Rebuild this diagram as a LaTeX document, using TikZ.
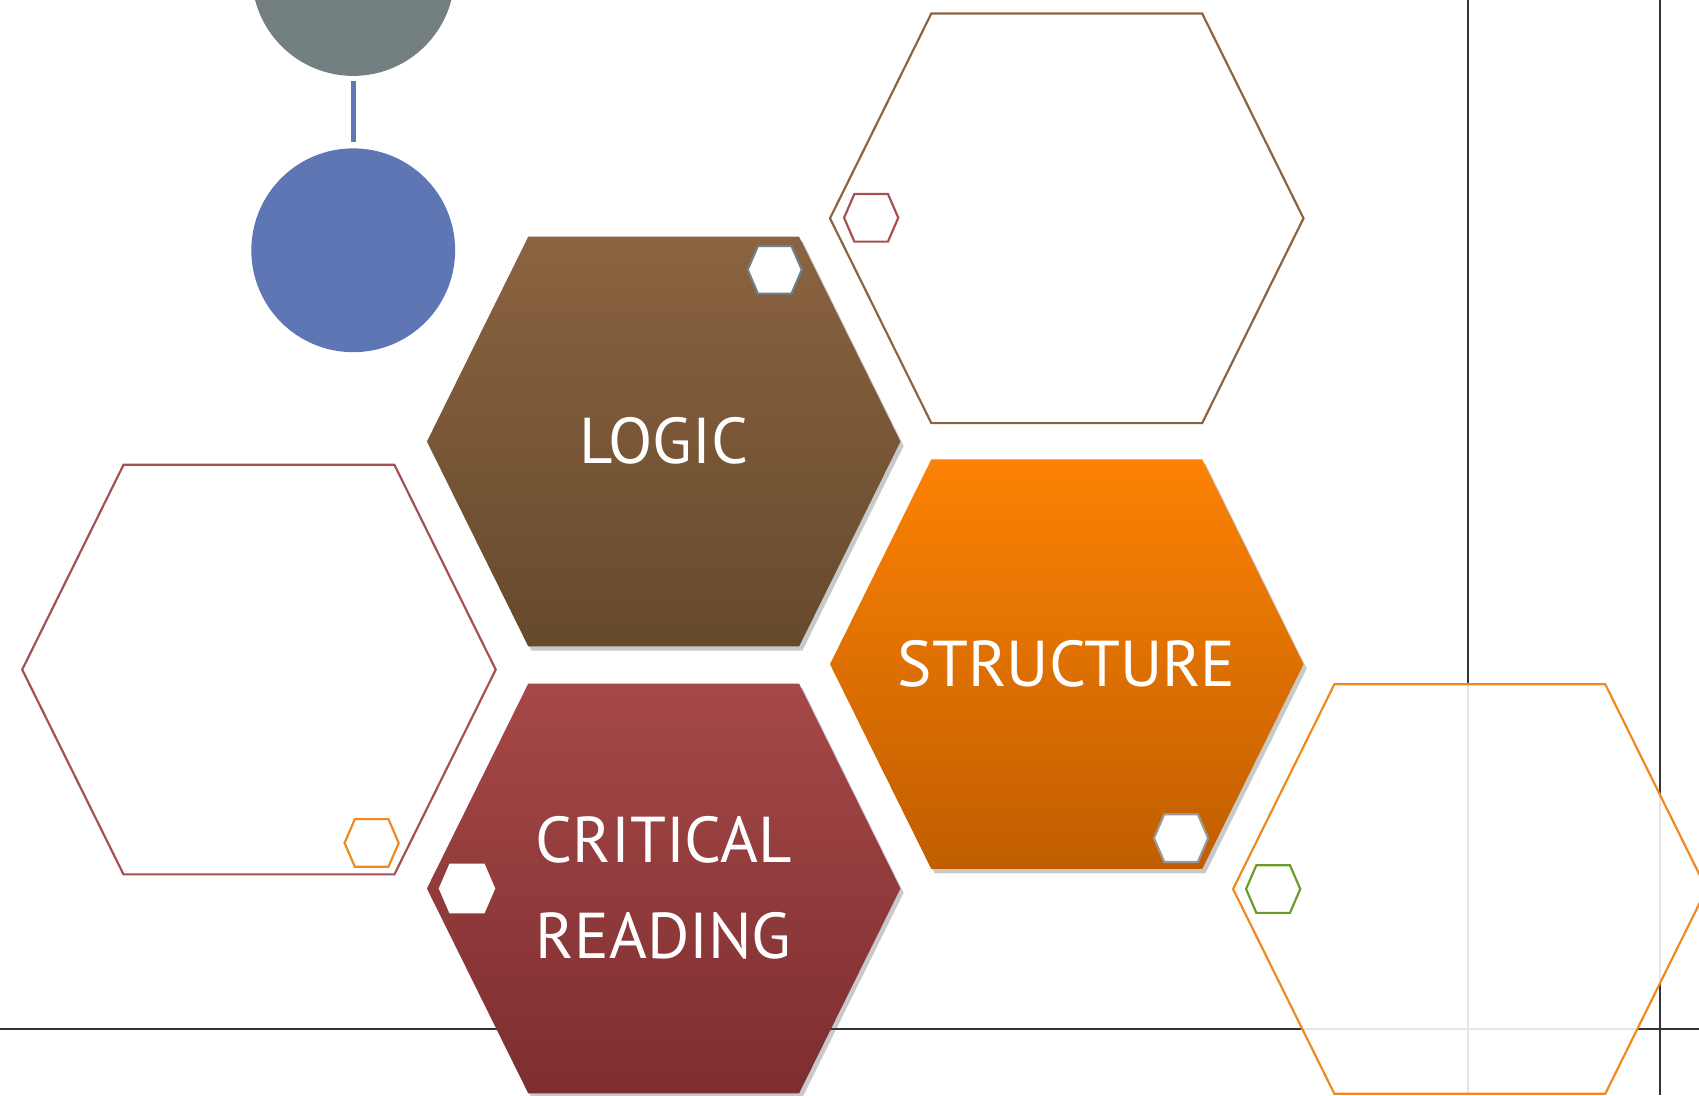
\documentclass[tikz,border=0pt]{standalone}
\usepackage{fontspec}
\setmainfont{PT Sans}
\usetikzlibrary{shadows}
\definecolor{logicT}{HTML}{8B6340}
\definecolor{logicB}{HTML}{664A2C}
\definecolor{strT}{HTML}{FC8204}
\definecolor{strB}{HTML}{C05E00}
\definecolor{crT}{HTML}{A64848}
\definecolor{crB}{HTML}{7D2E2F}
\definecolor{grayc}{HTML}{737F80}
\definecolor{bluec}{HTML}{5F76B4}
\definecolor{brownline}{HTML}{8B6340}
\definecolor{redline}{HTML}{A45050}
\definecolor{orangeline}{HTML}{F0891E}
\definecolor{greenline}{HTML}{6A9A2A}
\definecolor{slate}{HTML}{6F8089}
\definecolor{darkline}{HTML}{333333}
\tikzset{
  bighex/.style 2 args={insert path={({#1-125},{#2-189}) -- ({#1+125},{#2-189}) -- ({#1+218.5},{#2}) -- ({#1+125},{#2+189}) -- ({#1-125},{#2+189}) -- ({#1-218.5},{#2}) -- cycle}},
  smallhex/.style 2 args={insert path={({#1-15.5},{#2-22}) -- ({#1+15.5},{#2-22}) -- ({#1+25},{#2}) -- ({#1+15.5},{#2+22}) -- ({#1-15.5},{#2+22}) -- ({#1-25},{#2}) -- cycle}},
  outlinehex/.style={line width=0.02cm, fill=white, fill opacity=0.88, draw opacity=1},
  filledhex/.style={draw=none, drop shadow={shadow xshift=0.03cm, shadow yshift=-0.04cm, opacity=0.3, fill=black!70}},
  gridline/.style={draw=darkline, line width=0.02cm},
  lbl/.style={text=white, font=\fontsize{17}{25}\selectfont, align=center, inner sep=0pt},
  badge/.style={line width=0.02cm, fill=white},
}
\begin{document}
\begin{tikzpicture}[x=0.01cm, y=-0.01cm]
\useasboundingbox (0,0) rectangle (1568,1010.6);
\clip (0,0) rectangle (1568,1010.6);
% background guide lines
\coordinate (v1t) at (1355,0); \coordinate (v1b) at (1355,1011);
\coordinate (v2t) at (1532,0); \coordinate (v2b) at (1532,1011);
\coordinate (hl) at (0,950); \coordinate (hr) at (1568,950);
\draw[gridline] (v1t) -- (v1b);
\draw[gridline] (v2t) -- (v2b);
\draw[gridline] (hl) -- (hr);
% circles
\node[circle, fill=grayc, minimum size=1.87cm, inner sep=0pt] (gc) at (326,-23.5) {};
\node[circle, fill=bluec, minimum size=1.88cm, inner sep=0pt] (bc) at (326,231) {};
\coordinate (lt) at (326,75); \coordinate (lb) at (326,131);
\draw[bluec, line width=0.05cm] (lt) -- (lb);
% outline hexes
\draw[outlinehex, draw=brownline] [bighex={984.5}{201.5}];
\draw[outlinehex, draw=redline] [bighex={239}{618}];
\draw[outlinehex, draw=orangeline] [bighex={1356.5}{820.5}];
% filled hexes
\path[filledhex, top color=logicT, bottom color=logicB] [bighex={612.5}{407.5}];
\path[filledhex, top color=strT, bottom color=strB] [bighex={984.5}{613}];
\path[filledhex, top color=crT, bottom color=crB] [bighex={612.5}{820}];
% small hexes
\draw[badge, draw=slate] [smallhex={715}{249}];
\draw[badge, draw=redline, fill=none] [smallhex={804}{201}];
\draw[badge, draw=orangeline, fill=none] [smallhex={343}{778}];
\draw[badge, draw=gray!80] [smallhex={1090}{773.5}];
\draw[badge, draw=white] [smallhex={431}{820}];
\draw[badge, draw=greenline, fill=none] [smallhex={1175}{820.5}];
% labels
\node[lbl] (logic) at (612.5,407) {LOGIC};
\node[lbl] (structure) at (984.5,613) {STRUCTURE};
\node[lbl] (critical) at (612.5,819.5) {CRITICAL\\READING};
\end{tikzpicture}
\end{document}
